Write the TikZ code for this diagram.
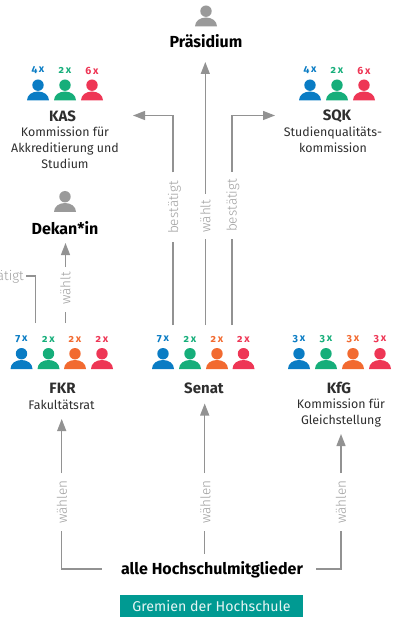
\documentclass[tikz,border=0pt]{standalone}
\usepackage{fontspec}
\setmainfont{Fira Sans}
\newfontfamily\lightfont{Fira Sans Light}
\usetikzlibrary{arrows.meta,calc}
\definecolor{cblue}{HTML}{0A7CC4}
\definecolor{cgreen}{HTML}{16AE7A}
\definecolor{corange}{HTML}{F26A30}
\definecolor{cred}{HTML}{EE3655}
\definecolor{cgray}{HTML}{9A9A9A}
\definecolor{cline}{HTML}{929292}
\definecolor{cteal}{HTML}{009A92}
\definecolor{ctxt}{HTML}{2E2E2E}
\tikzset{
 x=1pt,y=-1pt,
 pics/person/.style={code={
   \fill[#1] (0,-7.3) circle (5.7);
   \fill[#1] (-11,8) .. controls (-11,2.5) and (-6,-1) .. (0,-1) .. controls (6,-1) and (11,2.5) .. (11,8) -- cycle;
 }},
 count/.style={font=\fontsize{10.5}{11}\selectfont\bfseries\addfontfeature{Numbers=OldStyle},inner sep=0pt},
 conn/.style={draw=cline,line width=1.3pt},
 arr/.style={conn,-{Triangle[length=12pt,width=9pt]}},
 edge label/.style={font=\fontsize{13.5}{14}\lightfont,text=black!38,inner sep=0pt,rotate=90},
 title/.style={font=\fontsize{16}{18}\selectfont\bfseries,text=black,inner sep=0pt},
 group/.style={font=\fontsize{15}{17}\selectfont\bfseries,text=ctxt,inner sep=0pt},
 sub/.style={font=\fontsize{12.4}{16}\selectfont,text=ctxt,align=center,inner sep=0pt},
}
\newcommand{\member}[4]{% x, y(body), colour, count
  \pic at (#1,#2) {person=#3};
  \node[count,text=#3] at (#1,#2-22) {#4};
}
\begin{document}
\begin{tikzpicture}
\useasboundingbox (0,0) rectangle (393,617);
% persons
\pic at (206,18.5) {person=cgray};
\pic at (65,204) {person=cgray};
\foreach \x/\c/\t in {38/cblue/4\,x,65/cgreen/2\,x,92/cred/6\,x}{\member{\x}{92.5}{\c}{\t}}
\foreach \x/\c/\t in {310/cblue/4\,x,337/cgreen/2\,x,364/cred/6\,x}{\member{\x}{92.5}{\c}{\t}}
\foreach \x/\c/\t in {21.5/cblue/7\,x,48.5/cgreen/2\,x,75/corange/2\,x,102/cred/2\,x}{\member{\x}{361}{\c}{\t}}
\foreach \x/\c/\t in {163/cblue/7\,x,190/cgreen/2\,x,217/corange/2\,x,243.5/cred/2\,x}{\member{\x}{361}{\c}{\t}}
\foreach \x/\c/\t in {299/cblue/3\,x,326/cgreen/3\,x,353/corange/3\,x,380/cred/3\,x}{\member{\x}{361}{\c}{\t}}
% titles
\node[title] (praes) at (206,41) {Präsidium};
\node[title] (dekan) at (65,228) {Dekan*in};
\node[group] (kas) at (62.5,116) {KAS};
\node[sub] (kassub) at (65,148) {Kommission für\\Akkreditierung und\\Studium};
\node[group] (sqk) at (337,116) {SQK};
\node[sub] (sqksub) at (333,139.5) {Studienqualitäts-\\kommission};
\node[group] (fkr) at (62.5,388) {FKR};
\node[sub] (fkrsub) at (61.5,405) {Fakultätsrat};
\node[group] (senat) at (204,388) {Senat};
\node[group] (kfg) at (339,388) {KfG};
\node[sub] (kfgsub) at (341,413) {Kommission für\\Gleichstellung};
\node[title] (alle) at (212,570) {alle Hochschulmitglieder};
\node[fill=cteal,text=white!90!cteal,minimum width=183pt,minimum height=22pt,inner sep=0pt,font=\fontsize{14.2}{16}\selectfont] (caption) at (211.5,606) {Gremien der Hochschule};
% edge labels
\node[edge label] (lb1) at (174.5,207.5) {bestätigt};
\node[edge label] (lw1) at (205.5,216) {wählt};
\node[edge label] (lb2) at (233,205.5) {bestätigt};
\node[edge label] (lw2) at (65.5,288.5) {wählt};
\node[edge label,rotate=-90,anchor=east] (lb3) at (24,276.5) {bestätigt};
\node[edge label] (lwa) at (62,502) {wählen};
\node[edge label] (lwb) at (205.5,502) {wählen};
\node[edge label] (lwc) at (341,502) {wählen};
% named ends
\coordinate (s1) at (173,325); \coordinate (m1) at (173,242); \coordinate (e1) at (173,172.5);
\coordinate (s2) at (205.3,325); \coordinate (m2) at (205.3,239); \coordinate (e2) at (205.3,194);
\coordinate (s3) at (232,325); \coordinate (m3) at (232,239); \coordinate (e3) at (232,172);
\coordinate (s4) at (65.5,323); \coordinate (m4) at (65.5,312); \coordinate (e4) at (65.5,267);
\coordinate (s5) at (35.7,323); \coordinate (c5) at (35.7,276); \coordinate (t5) at (26,276);
\coordinate (t1) at (133,115.5); \coordinate (t2) at (205.3,62); \coordinate (t3) at (275,115.5);
\coordinate (t4) at (65.5,243);
\coordinate (ua) at (61.7,473); \coordinate (ta) at (61.7,419);
\coordinate (ub) at (204.7,473); \coordinate (tb) at (204.7,403.5);
\coordinate (uc) at (341,473); \coordinate (tc) at (341,434);
\coordinate (la) at (61.7,531); \coordinate (ha) at (61.7,569); \coordinate (ea) at (101.7,569);
\coordinate (lb) at (204.7,531); \coordinate (eb) at (204.7,554);
\coordinate (lc) at (341,531); \coordinate (hc) at (341,569); \coordinate (ec) at (316,569);
% connectors
\draw[conn] (s1) -- (m1);
\draw[arr] (e1) |- (t1);
\draw[conn] (s2) -- (m2);
\draw[arr] (e2) -- (t2);
\draw[conn] (s3) -- (m3);
\draw[arr] (e3) |- (t3);
\draw[conn] (s4) -- (m4);
\draw[arr] (e4) -- (t4);
\draw[conn] (s5) -- (c5) -- (t5);
\draw[arr] (ua) -- (ta);
\draw[arr] (ub) -- (tb);
\draw[arr] (uc) -- (tc);
\draw[conn] (la) -- (ha) -- (ea);
\draw[conn] (lb) -- (eb);
\draw[conn] (lc) -- (hc) -- (ec);
\end{tikzpicture}
\end{document}
